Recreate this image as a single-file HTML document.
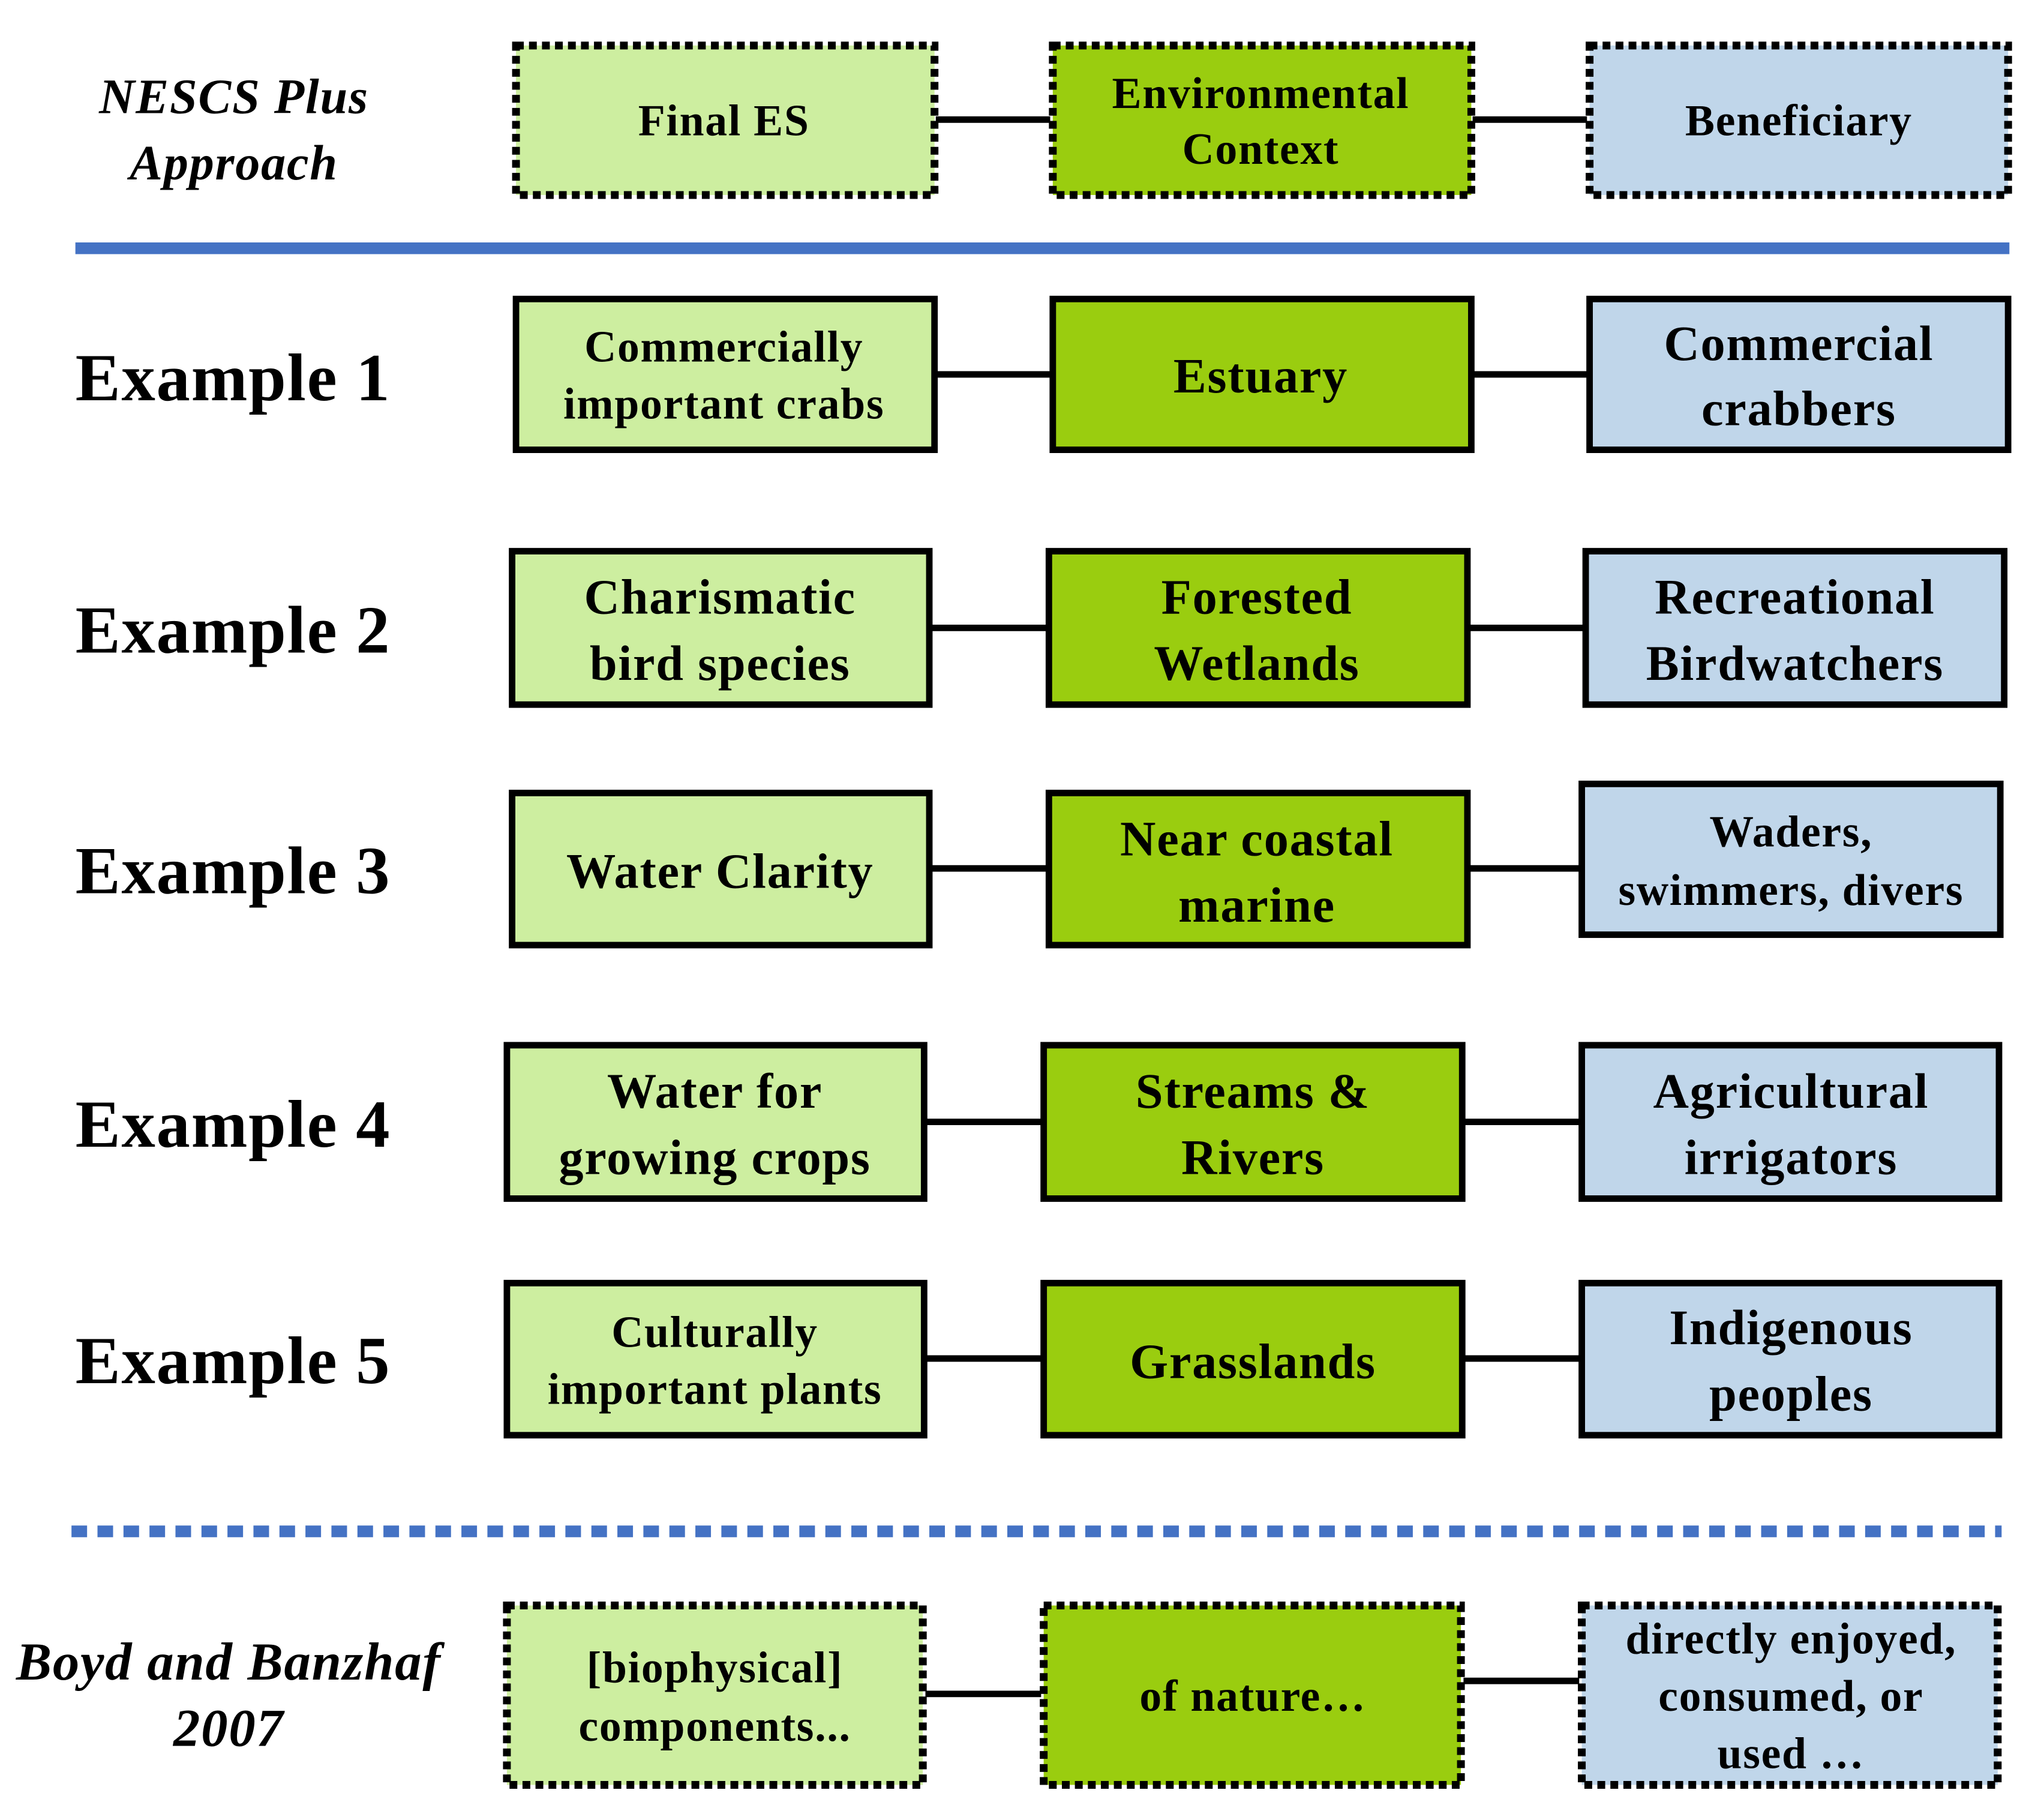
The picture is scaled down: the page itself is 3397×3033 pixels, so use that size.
<!DOCTYPE html>
<html><head><meta charset="utf-8"><style>
html,body{margin:0;padding:0;background:#fff;}
svg{display:block;}
text{font-family:"Liberation Serif",serif;font-weight:bold;fill:#000;letter-spacing:0.8px;}
</style></head><body>
<svg width="3397" height="3033" viewBox="0 0 1568 1400" preserveAspectRatio="none" xmlns="http://www.w3.org/2000/svg">
<g stroke="#000" stroke-width="5">
<line x1="720" y1="92" x2="808" y2="92"/><line x1="1133" y1="92" x2="1221" y2="92"/>
<line x1="720" y1="288" x2="808" y2="288"/><line x1="1133" y1="288" x2="1221" y2="288"/>
<line x1="716" y1="483" x2="805" y2="483"/><line x1="1130" y1="483" x2="1218" y2="483"/>
<line x1="716" y1="668" x2="805" y2="668"/><line x1="1130" y1="668" x2="1215" y2="668"/>
<line x1="712" y1="863" x2="801" y2="863"/><line x1="1126" y1="863" x2="1215" y2="863"/>
<line x1="712" y1="1045" x2="801" y2="1045"/><line x1="1126" y1="1045" x2="1215" y2="1045"/>
<line x1="712" y1="1303" x2="801" y2="1303"/><line x1="1126" y1="1293" x2="1215" y2="1293"/>
</g>
<g stroke="#000" stroke-width="6" stroke-dasharray="6 4">
<rect x="397" y="35" width="322" height="115" fill="#cdeea0"/>
<rect x="810" y="35" width="322" height="115" fill="#9acd0f"/>
<rect x="1223" y="35" width="322" height="115" fill="#c0d6ea"/>
<rect x="390" y="1235" width="320" height="138" fill="#cdeea0"/>
<rect x="803" y="1235" width="321" height="138" fill="#9acd0f"/>
<rect x="1217" y="1235" width="320" height="138" fill="#c0d6ea"/>
</g>
<g stroke="#000" stroke-width="5">
<rect x="397" y="230" width="322" height="116" fill="#cdeea0"/>
<rect x="810" y="230" width="322" height="116" fill="#9acd0f"/>
<rect x="1223" y="230" width="322" height="116" fill="#c0d6ea"/>
<rect x="394" y="424" width="321" height="118" fill="#cdeea0"/>
<rect x="807" y="424" width="322" height="118" fill="#9acd0f"/>
<rect x="1220" y="424" width="322" height="118" fill="#c0d6ea"/>
<rect x="394" y="610" width="321" height="117" fill="#cdeea0"/>
<rect x="807" y="610" width="322" height="117" fill="#9acd0f"/>
<rect x="1217" y="603" width="322" height="116" fill="#c0d6ea"/>
<rect x="390" y="804" width="321" height="118" fill="#cdeea0"/>
<rect x="803" y="804" width="322" height="118" fill="#9acd0f"/>
<rect x="1217" y="804" width="321" height="118" fill="#c0d6ea"/>
<rect x="390" y="987" width="321" height="117" fill="#cdeea0"/>
<rect x="803" y="987" width="322" height="117" fill="#9acd0f"/>
<rect x="1217" y="987" width="321" height="117" fill="#c0d6ea"/>
</g>
<line x1="58" y1="191" x2="1546" y2="191" stroke="#4472c4" stroke-width="9"/>
<line x1="55" y1="1178" x2="1540" y2="1178" stroke="#4472c4" stroke-width="9" stroke-dasharray="12 8"/>
<g font-size="38" font-style="italic" text-anchor="middle">
<text x="180" y="87">NESCS Plus</text><text x="180" y="138">Approach</text>
<text x="176" y="1292" font-size="41">Boyd and Banzhaf</text><text x="176" y="1343" font-size="41">2007</text>
</g>
<g font-size="52" style="letter-spacing:1.6px">
<text x="58" y="308">Example 1</text><text x="58" y="502">Example 2</text>
<text x="58" y="687">Example 3</text><text x="58" y="882">Example 4</text>
<text x="58" y="1064">Example 5</text>
</g>
<g font-size="34" text-anchor="middle">
<text x="557" y="104">Final ES</text>
<text x="970" y="83">Environmental</text><text x="970" y="126">Context</text>
<text x="1384" y="104">Beneficiary</text>
<text x="557" y="278">Commercially</text><text x="557" y="322">important crabs</text>
<text x="970" y="302" font-size="38">Estuary</text>
<text x="1384" y="277" font-size="38">Commercial</text><text x="1384" y="327" font-size="38">crabbers</text>
<text x="554" y="472" font-size="38">Charismatic</text><text x="554" y="523" font-size="38">bird species</text>
<text x="967" y="472" font-size="38">Forested</text><text x="967" y="523" font-size="38">Wetlands</text>
<text x="1381" y="472" font-size="38">Recreational</text><text x="1381" y="523" font-size="38">Birdwatchers</text>
<text x="554" y="683" font-size="38">Water  Clarity</text>
<text x="967" y="658" font-size="38">Near coastal</text><text x="967" y="709" font-size="38">marine</text>
<text x="1378" y="651">Waders,</text><text x="1378" y="696">swimmers, divers</text>
<text x="550" y="852" font-size="38">Water  for</text><text x="550" y="903" font-size="38">growing crops</text>
<text x="964" y="852" font-size="38">Streams  &amp;</text><text x="964" y="903" font-size="38">Rivers</text>
<text x="1378" y="852" font-size="38">Agricultural</text><text x="1378" y="903" font-size="38">irrigators</text>
<text x="550" y="1036">Culturally</text><text x="550" y="1080">important plants</text>
<text x="964" y="1060" font-size="38">Grasslands</text>
<text x="1378" y="1034" font-size="38">Indigenous</text><text x="1378" y="1085" font-size="38">peoples</text>
<text x="550" y="1294">[biophysical]</text><text x="550" y="1339">components...</text>
<text x="964" y="1316">of nature…</text>
<text x="1378" y="1272">directly enjoyed,</text><text x="1378" y="1316">consumed, or</text><text x="1378" y="1360">used …</text>
</g>
</svg>
</body></html>
